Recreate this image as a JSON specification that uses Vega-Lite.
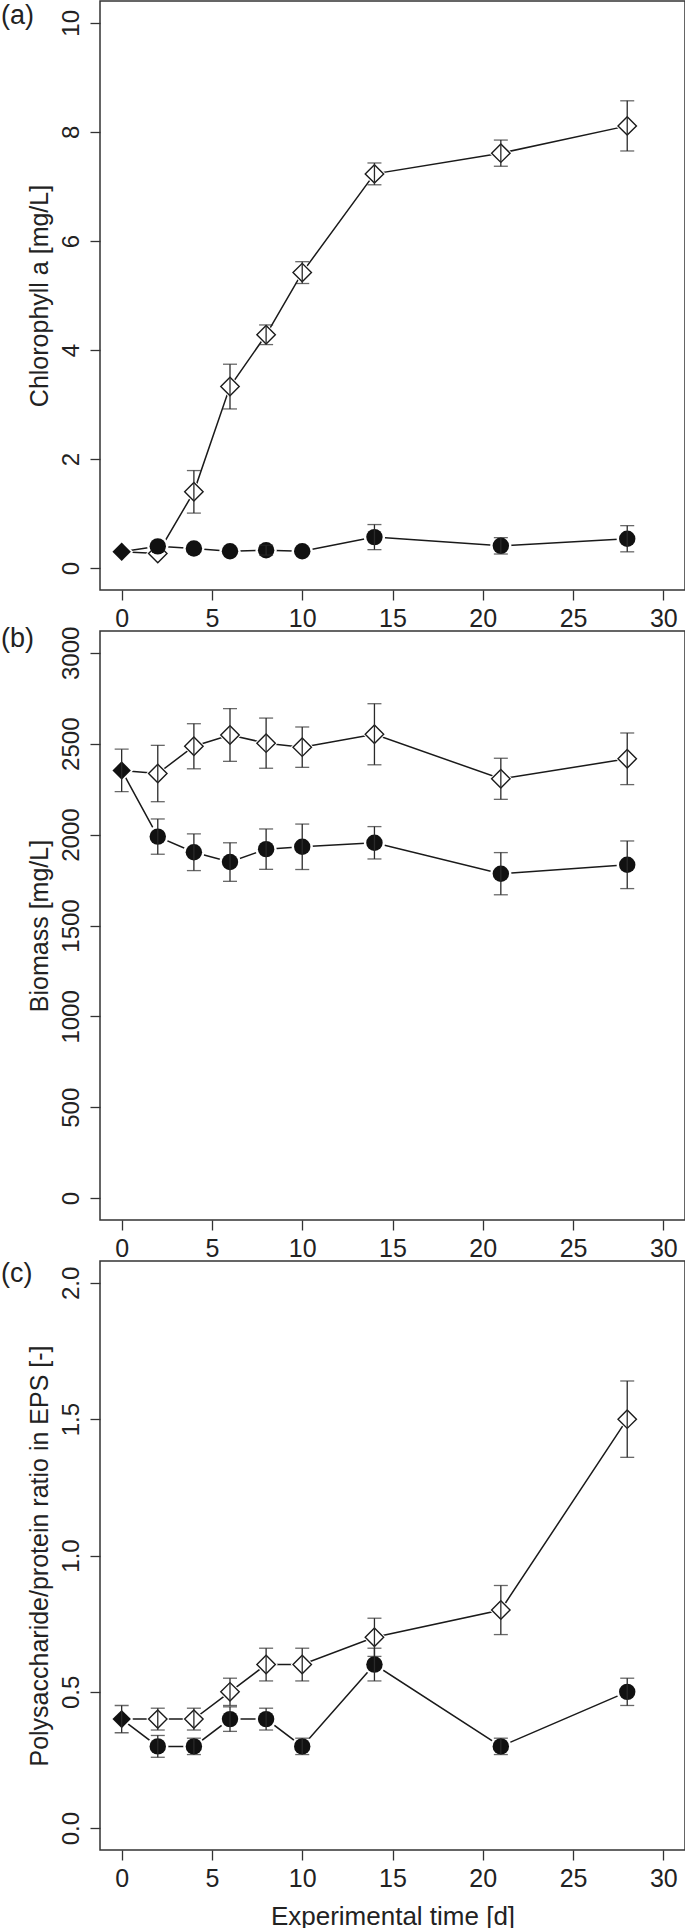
{
  "$schema": "https://vega.github.io/schema/vega-lite/v6.json",
  "padding": 0,
  "background": "white",
  "spacing": 41,
  "bounds": "flush",
  "config": {
    "view": {"stroke": "#333", "strokeWidth": 1.5},
    "font": "Liberation Sans",
    "axis": {"grid": false, "domain": false, "tickColor": "#333", "tickWidth": 1.3, "tickSize": 10,
      "labelFont": "Liberation Sans", "labelFontSize": 24, "labelColor": "#222",
      "titleFont": "Liberation Sans", "titleFontSize": 25, "titleFontWeight": "normal", "titleColor": "#222"},
    "axisX": {"labelPadding": 6, "titlePadding": 12, "labelFlush": false, "labelFontSize": 25, "titleFontSize": 26},
    "axisY": {"labelAngle": -90, "labelAlign": "center", "labelBaseline": "bottom", "labelPadding": 7, "titlePadding": 7},
    "title": {"anchor": "start", "frame": "group", "orient": "top", "offset": -26.5, "baseline": "middle", "dx": -99, "fontSize": 27, "fontWeight": "normal", "color": "#222", "font": "Liberation Sans"}
  },
  "datasets": {
    "chl": [
      {"day": 0, "series": "S1", "value": 0.30, "err": 0},
      {"day": 2, "series": "S1", "value": 0.27, "err": 0},
      {"day": 4, "series": "S1", "value": 1.40, "err": 0.39},
      {"day": 6, "series": "S1", "value": 3.33, "err": 0.41},
      {"day": 8, "series": "S1", "value": 4.28, "err": 0.18},
      {"day": 10, "series": "S1", "value": 5.42, "err": 0.20},
      {"day": 14, "series": "S1", "value": 7.23, "err": 0.20},
      {"day": 21, "series": "S1", "value": 7.61, "err": 0.24},
      {"day": 28, "series": "S1", "value": 8.11, "err": 0.46},
      {"day": 0, "series": "S2", "value": 0.30, "err": 0},
      {"day": 2, "series": "S2", "value": 0.40, "err": 0},
      {"day": 4, "series": "S2", "value": 0.36, "err": 0},
      {"day": 6, "series": "S2", "value": 0.31, "err": 0},
      {"day": 8, "series": "S2", "value": 0.33, "err": 0.09},
      {"day": 10, "series": "S2", "value": 0.31, "err": 0},
      {"day": 14, "series": "S2", "value": 0.57, "err": 0.23},
      {"day": 21, "series": "S2", "value": 0.41, "err": 0.15},
      {"day": 28, "series": "S2", "value": 0.54, "err": 0.24}
    ],
    "bio": [
      {"day": 0, "series": "S1", "value": 2353, "err": 117},
      {"day": 2, "series": "S1", "value": 2336, "err": 155},
      {"day": 4, "series": "S1", "value": 2486, "err": 124},
      {"day": 6, "series": "S1", "value": 2548, "err": 145},
      {"day": 8, "series": "S1", "value": 2503, "err": 138},
      {"day": 10, "series": "S1", "value": 2481, "err": 111},
      {"day": 14, "series": "S1", "value": 2552, "err": 168},
      {"day": 21, "series": "S1", "value": 2307, "err": 113},
      {"day": 28, "series": "S1", "value": 2417, "err": 142},
      {"day": 0, "series": "S2", "value": 2353, "err": 117},
      {"day": 2, "series": "S2", "value": 1989, "err": 97},
      {"day": 4, "series": "S2", "value": 1903, "err": 101},
      {"day": 6, "series": "S2", "value": 1849, "err": 106},
      {"day": 8, "series": "S2", "value": 1920, "err": 111},
      {"day": 10, "series": "S2", "value": 1933, "err": 125},
      {"day": 14, "series": "S2", "value": 1955, "err": 89},
      {"day": 21, "series": "S2", "value": 1785, "err": 116},
      {"day": 28, "series": "S2", "value": 1834, "err": 131}
    ],
    "eps": [
      {"day": 0, "series": "S1", "value": 0.40, "err": 0.05},
      {"day": 2, "series": "S1", "value": 0.40, "err": 0.04},
      {"day": 4, "series": "S1", "value": 0.40, "err": 0.04},
      {"day": 6, "series": "S1", "value": 0.50, "err": 0.05},
      {"day": 8, "series": "S1", "value": 0.60, "err": 0.06},
      {"day": 10, "series": "S1", "value": 0.60, "err": 0.06},
      {"day": 14, "series": "S1", "value": 0.70, "err": 0.07},
      {"day": 21, "series": "S1", "value": 0.80, "err": 0.09},
      {"day": 28, "series": "S1", "value": 1.50, "err": 0.14},
      {"day": 0, "series": "S2", "value": 0.40, "err": 0.05},
      {"day": 2, "series": "S2", "value": 0.30, "err": 0.04},
      {"day": 4, "series": "S2", "value": 0.30, "err": 0.03},
      {"day": 6, "series": "S2", "value": 0.40, "err": 0.045},
      {"day": 8, "series": "S2", "value": 0.40, "err": 0.04},
      {"day": 10, "series": "S2", "value": 0.30, "err": 0.03},
      {"day": 14, "series": "S2", "value": 0.60, "err": 0.06},
      {"day": 21, "series": "S2", "value": 0.30, "err": 0.03},
      {"day": 28, "series": "S2", "value": 0.50, "err": 0.05}
    ]
  },
  "vconcat": [
    {
      "width": 585, "height": 589,
      "data": {"name": "chl"},
      "title": {"text": "(a)", "offset": -29},
      "encoding": {
        "x": {"field": "day", "type": "quantitative", "scale": {"domain": [-1.2, 31.2], "nice": false, "zero": false}, "axis": {"values": [0, 5, 10, 15, 20, 25, 30]}, "title": null},
        "y": {"field": "value", "type": "quantitative", "scale": {"domain": [-0.4, 10.4], "nice": false, "zero": false}, "axis": {"values": [0, 2, 4, 6, 8, 10], "format": "d"}, "title": "Chlorophyll a [mg/L]"}
      },
      "layer": [
        {"mark": {"type": "line", "color": "#1a1a1a", "strokeWidth": 1.5}, "encoding": {"detail": {"field": "series"}}},
        {"transform": [{"filter": "datum.series == 'S1'"}], "mark": {"type": "point", "shape": "diamond", "filled": true, "color": "white", "size": 540, "opacity": 1}},
        {"transform": [{"filter": "datum.series == 'S2' && datum.day > 0"}], "mark": {"type": "point", "shape": "circle", "filled": true, "color": "white", "size": 450, "opacity": 1}},
        {"transform": [{"filter": "datum.series == 'S1' && datum.day > 0"}], "mark": {"type": "point", "shape": "diamond", "filled": false, "fill": "white", "stroke": "#1a1a1a", "strokeWidth": 1.4, "size": 340, "opacity": 1}},
        {"transform": [{"filter": "datum.series == 'S2' && datum.day > 0"}], "mark": {"type": "point", "shape": "circle", "filled": true, "color": "#111", "size": 270, "opacity": 1}},
        {"transform": [{"filter": "datum.series == 'S1' && datum.day == 0"}], "mark": {"type": "point", "shape": "diamond", "filled": true, "color": "#111", "size": 340, "opacity": 1}},
        {"transform": [{"filter": "datum.err > 0 && !(datum.series == 'S2' && datum.day == 0)"}], "mark": {"type": "errorbar", "color": "#2a2a2a", "ticks": true, "size": 14, "thickness": 1.3}, "encoding": {"yError": {"field": "err"}}}
      ]
    },
    {
      "width": 585, "height": 589,
      "data": {"name": "bio"},
      "title": {"text": "(b)"},
      "encoding": {
        "x": {"field": "day", "type": "quantitative", "scale": {"domain": [-1.2, 31.2], "nice": false, "zero": false}, "axis": {"values": [0, 5, 10, 15, 20, 25, 30]}, "title": null},
        "y": {"field": "value", "type": "quantitative", "scale": {"domain": [-120, 3120], "nice": false, "zero": false}, "axis": {"values": [0, 500, 1000, 1500, 2000, 2500, 3000], "format": "d"}, "title": "Biomass [mg/L]"}
      },
      "layer": [
        {"mark": {"type": "line", "color": "#1a1a1a", "strokeWidth": 1.5}, "encoding": {"detail": {"field": "series"}}},
        {"transform": [{"filter": "datum.series == 'S1'"}], "mark": {"type": "point", "shape": "diamond", "filled": true, "color": "white", "size": 540, "opacity": 1}},
        {"transform": [{"filter": "datum.series == 'S2' && datum.day > 0"}], "mark": {"type": "point", "shape": "circle", "filled": true, "color": "white", "size": 450, "opacity": 1}},
        {"transform": [{"filter": "datum.series == 'S1' && datum.day > 0"}], "mark": {"type": "point", "shape": "diamond", "filled": false, "fill": "white", "stroke": "#1a1a1a", "strokeWidth": 1.4, "size": 340, "opacity": 1}},
        {"transform": [{"filter": "datum.series == 'S2' && datum.day > 0"}], "mark": {"type": "point", "shape": "circle", "filled": true, "color": "#111", "size": 270, "opacity": 1}},
        {"transform": [{"filter": "datum.series == 'S1' && datum.day == 0"}], "mark": {"type": "point", "shape": "diamond", "filled": true, "color": "#111", "size": 340, "opacity": 1}},
        {"transform": [{"filter": "datum.err > 0 && !(datum.series == 'S2' && datum.day == 0)"}], "mark": {"type": "errorbar", "color": "#2a2a2a", "ticks": true, "size": 14, "thickness": 1.3}, "encoding": {"yError": {"field": "err"}}}
      ]
    },
    {
      "width": 585, "height": 589,
      "data": {"name": "eps"},
      "title": {"text": "(c)"},
      "encoding": {
        "x": {"field": "day", "type": "quantitative", "scale": {"domain": [-1.2, 31.2], "nice": false, "zero": false}, "axis": {"values": [0, 5, 10, 15, 20, 25, 30]}, "title": "Experimental time [d]"},
        "y": {"field": "value", "type": "quantitative", "scale": {"domain": [-0.08, 2.08], "nice": false, "zero": false}, "axis": {"values": [0, 0.5, 1, 1.5, 2], "format": ".1f"}, "title": "Polysaccharide/protein ratio in EPS [-]"}
      },
      "layer": [
        {"mark": {"type": "line", "color": "#1a1a1a", "strokeWidth": 1.5}, "encoding": {"detail": {"field": "series"}}},
        {"transform": [{"filter": "datum.series == 'S1'"}], "mark": {"type": "point", "shape": "diamond", "filled": true, "color": "white", "size": 540, "opacity": 1}},
        {"transform": [{"filter": "datum.series == 'S2' && datum.day > 0"}], "mark": {"type": "point", "shape": "circle", "filled": true, "color": "white", "size": 450, "opacity": 1}},
        {"transform": [{"filter": "datum.series == 'S1' && datum.day > 0"}], "mark": {"type": "point", "shape": "diamond", "filled": false, "fill": "white", "stroke": "#1a1a1a", "strokeWidth": 1.4, "size": 340, "opacity": 1}},
        {"transform": [{"filter": "datum.series == 'S2' && datum.day > 0"}], "mark": {"type": "point", "shape": "circle", "filled": true, "color": "#111", "size": 270, "opacity": 1}},
        {"transform": [{"filter": "datum.series == 'S1' && datum.day == 0"}], "mark": {"type": "point", "shape": "diamond", "filled": true, "color": "#111", "size": 340, "opacity": 1}},
        {"transform": [{"filter": "datum.err > 0 && !(datum.series == 'S2' && datum.day == 0)"}], "mark": {"type": "errorbar", "color": "#2a2a2a", "ticks": true, "size": 14, "thickness": 1.3}, "encoding": {"yError": {"field": "err"}}}
      ]
    }
  ]
}
